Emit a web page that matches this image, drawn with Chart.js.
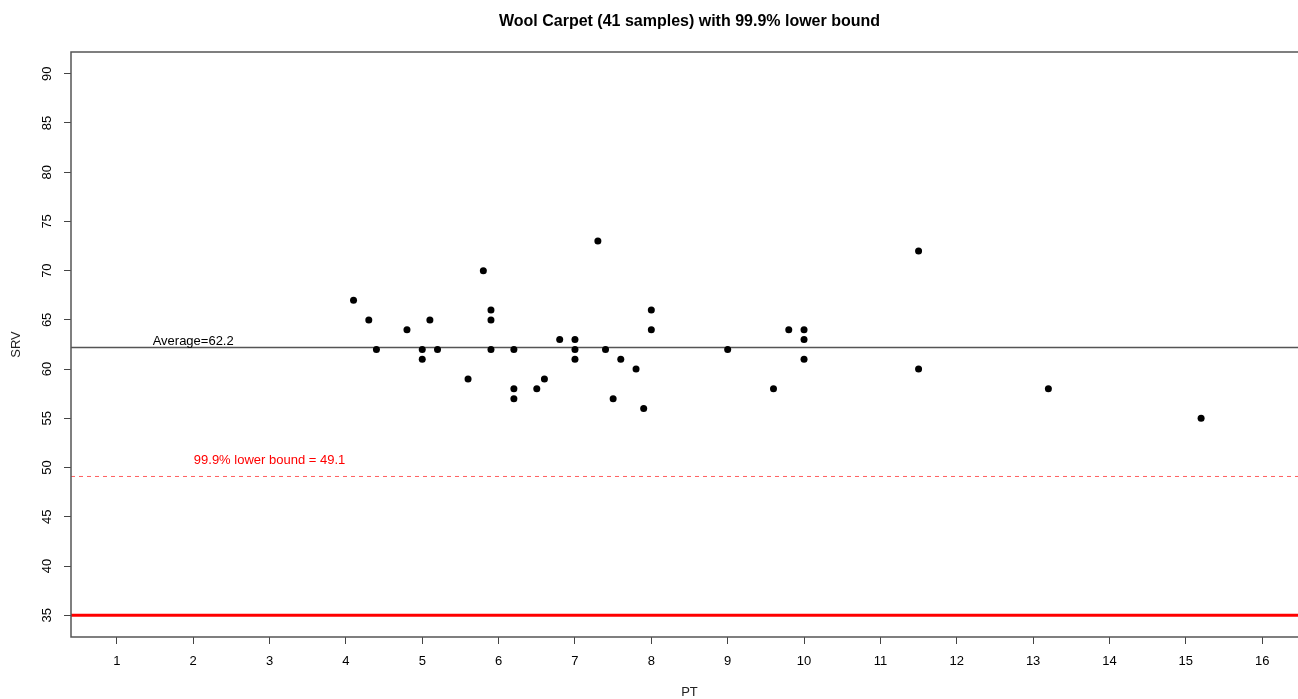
<!DOCTYPE html>
<html>
<head>
<meta charset="utf-8">
<script src="https://cdn.jsdelivr.net/npm/chart.js@4/dist/chart.umd.min.js"></script>
<style>
  html, body { margin: 0; padding: 0; background: #fff; overflow: hidden; }
  canvas { display: block; }
</style>
</head>
<body>
<canvas id="c" width="1312" height="699"></canvas>
<script>
// ---- data ----
const ptValues  = [4.1, 4.3, 4.4, 4.8, 5.0, 5.0, 5.1, 5.2, 5.6, 5.8, 5.9, 5.9, 5.9, 6.2, 6.2, 6.2, 6.5, 6.6, 6.8, 7.0, 7.0, 7.0, 7.3, 7.4, 7.5, 7.6, 7.8, 7.9, 8.0, 8.0, 9.0, 9.6, 9.8, 10.0, 10.0, 10.0, 11.5, 11.5, 13.2, 15.2];
const srvValues = [67, 65, 62, 64, 62, 61, 65, 62, 59, 70, 66, 65, 62, 62, 58, 57, 58, 59, 63, 63, 62, 61, 73, 62, 57, 61, 60, 56, 66, 64, 62, 58, 64, 64, 63, 61, 72, 60, 58, 55];
const averageValue = 62.2;
const lowerBoundValue = 49.1;
const limitValue = 35;
const xTickValues = [1, 2, 3, 4, 5, 6, 7, 8, 9, 10, 11, 12, 13, 14, 15, 16];
const yTickValues = [35, 40, 45, 50, 55, 60, 65, 70, 75, 80, 85, 90];
const xLimits = [0.4, 16.6];
const yLimits = [32.8, 92.2];
const titleText = 'Wool Carpet (41 samples) with 99.9% lower bound';
const averageLabel = 'Average=62.2';
const lowerBoundLabel = '99.9% lower bound = 49.1';
const averageLabelPos = [2, 62.8];
const lowerBoundLabelPos = [3, 50.7];

const FONT = '"Liberation Sans", Arial, sans-serif';
Chart.defaults.font.family = FONT;
Chart.defaults.color = '#000';

const points = ptValues.map((x, i) => ({ x: x, y: srvValues[i] }));
const hLine = (v) => [{ x: xLimits[0], y: v }, { x: xLimits[1], y: v }];

const framePlugin = {
  id: 'frame',
  afterDatasetsDraw(chart) {
    const { ctx, chartArea: a, scales } = chart;
    ctx.save();
    ctx.strokeStyle = '#555';
    ctx.lineWidth = 1.5;
    ctx.strokeRect(a.left, a.top, a.right - a.left, a.bottom - a.top);
    ctx.font = '13px ' + FONT;
    ctx.textAlign = 'center';
    ctx.textBaseline = 'middle';
    ctx.fillStyle = '#000';
    ctx.fillText(averageLabel, scales.x.getPixelForValue(averageLabelPos[0]), scales.y.getPixelForValue(averageLabelPos[1]));
    ctx.fillStyle = '#ff0000';
    ctx.fillText(lowerBoundLabel, scales.x.getPixelForValue(lowerBoundLabelPos[0]), scales.y.getPixelForValue(lowerBoundLabelPos[1]));
    ctx.restore();
  }
};

new Chart(document.getElementById('c'), {
  type: 'scatter',
  data: {
    datasets: [
      { label: 'limit', type: 'line', data: hLine(limitValue), borderColor: '#ff0000', borderWidth: 3, pointRadius: 0, fill: false, order: 3 },
      { label: 'lower bound', type: 'line', data: hLine(lowerBoundValue), borderColor: 'rgba(255,40,40,0.75)', borderWidth: 1, borderDash: [4, 4], pointRadius: 0, fill: false, order: 3 },
      { label: 'average', type: 'line', data: hLine(averageValue), borderColor: '#555', borderWidth: 1.5, pointRadius: 0, fill: false, order: 2 },
      { label: 'SRV', data: points, backgroundColor: '#000', borderColor: '#000', pointRadius: 3.5, pointBorderWidth: 0, order: 1 }
    ]
  },
  options: {
    responsive: false,
    animation: false,
    layout: { padding: { right: 1 } },
    plugins: {
      legend: { display: false },
      tooltip: { enabled: false },
      title: {
        display: true,
        text: titleText,
        fullSize: false,
        color: '#000',
        font: { size: 16, weight: 'bold', family: FONT, lineHeight: 1.25 },
        padding: { top: 12, bottom: 20 }
      }
    },
    scales: {
      x: {
        type: 'linear',
        min: xLimits[0], max: xLimits[1],
        afterBuildTicks: (s) => { s.ticks = xTickValues.map(v => ({ value: v })); },
        afterFit: (s) => { s.height = 62; },
        grid: { display: true, drawOnChartArea: false, drawTicks: true, tickLength: 7, tickColor: '#444', tickWidth: 1 },
        border: { display: false },
        ticks: { font: { size: 13 }, color: '#000', padding: 10, maxRotation: 0, autoSkip: false },
        title: { display: true, text: 'PT', color: '#222', font: { size: 13, lineHeight: 1.0 }, padding: { top: 0, bottom: 0 } }
      },
      y: {
        type: 'linear',
        min: yLimits[0], max: yLimits[1],
        afterBuildTicks: (s) => { s.ticks = yTickValues.map(v => ({ value: v })); },
        afterFit: (s) => { s.width = 71; },
        grid: { display: true, drawOnChartArea: false, drawTicks: true, tickLength: 7, tickColor: '#444', tickWidth: 1 },
        border: { display: false },
        ticks: { font: { size: 13 }, color: '#000', padding: 9, minRotation: 90, maxRotation: 90, crossAlign: 'center', autoSkip: false },
        title: { display: true, text: 'SRV', color: '#222', font: { size: 13 }, padding: { top: 9, bottom: 0 } }
      }
    }
  },
  plugins: [framePlugin]
});
</script>
</body>
</html>
